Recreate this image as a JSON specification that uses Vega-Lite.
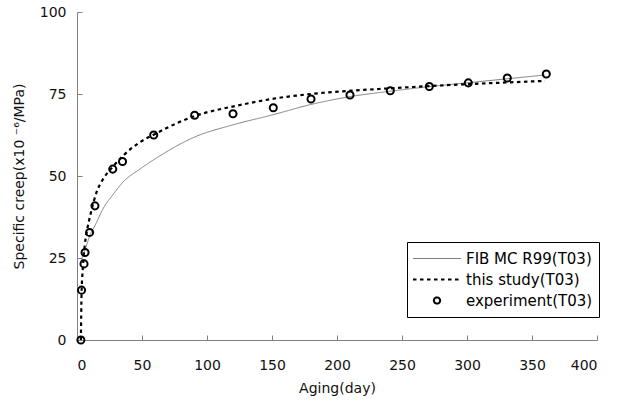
{
  "$schema": "https://vega.github.io/schema/vega-lite/v6.json",
  "width": 520,
  "height": 328,
  "autosize": {"type": "none"},
  "padding": {"left": 77, "top": 12, "right": 22, "bottom": 67},
  "background": "white",
  "config": {
    "view": {"stroke": null},
    "font": "DejaVu Sans",
    "axis": {
      "domainColor": "#808080",
      "tickColor": "#808080",
      "grid": false,
      "labelFont": "DejaVu Sans",
      "labelFontSize": 14,
      "labelColor": "#111111",
      "titleFont": "DejaVu Sans",
      "titleFontSize": 14,
      "titleFontWeight": "normal",
      "titleColor": "#111111",
      "tickSize": -5
    }
  },
  "data": {
    "values": [
      {"s": "FIB MC R99(T03)", "day": 3, "v": 24},
      {"s": "FIB MC R99(T03)", "day": 5, "v": 26.2},
      {"s": "FIB MC R99(T03)", "day": 7, "v": 28.5},
      {"s": "FIB MC R99(T03)", "day": 10, "v": 32},
      {"s": "FIB MC R99(T03)", "day": 14, "v": 35},
      {"s": "FIB MC R99(T03)", "day": 20, "v": 40},
      {"s": "FIB MC R99(T03)", "day": 28, "v": 44.5},
      {"s": "FIB MC R99(T03)", "day": 35, "v": 48},
      {"s": "FIB MC R99(T03)", "day": 48, "v": 52},
      {"s": "FIB MC R99(T03)", "day": 60, "v": 55.2},
      {"s": "FIB MC R99(T03)", "day": 90, "v": 61.8},
      {"s": "FIB MC R99(T03)", "day": 120, "v": 65.6},
      {"s": "FIB MC R99(T03)", "day": 150, "v": 68.6},
      {"s": "FIB MC R99(T03)", "day": 180, "v": 71.8},
      {"s": "FIB MC R99(T03)", "day": 210, "v": 74.2},
      {"s": "FIB MC R99(T03)", "day": 240, "v": 75.8},
      {"s": "FIB MC R99(T03)", "day": 270, "v": 77.2},
      {"s": "FIB MC R99(T03)", "day": 300, "v": 78.4},
      {"s": "FIB MC R99(T03)", "day": 330, "v": 79.6},
      {"s": "FIB MC R99(T03)", "day": 360, "v": 80.8},
      {"s": "this study(T03)", "day": 3, "v": 0},
      {"s": "this study(T03)", "day": 3.5, "v": 14},
      {"s": "this study(T03)", "day": 4.5, "v": 22},
      {"s": "this study(T03)", "day": 6, "v": 29},
      {"s": "this study(T03)", "day": 8, "v": 34},
      {"s": "this study(T03)", "day": 10.5, "v": 38.5},
      {"s": "this study(T03)", "day": 15, "v": 45},
      {"s": "this study(T03)", "day": 20, "v": 49},
      {"s": "this study(T03)", "day": 28, "v": 53},
      {"s": "this study(T03)", "day": 35, "v": 56},
      {"s": "this study(T03)", "day": 48, "v": 60.2},
      {"s": "this study(T03)", "day": 60, "v": 62.8},
      {"s": "this study(T03)", "day": 79, "v": 66.5},
      {"s": "this study(T03)", "day": 90, "v": 68.2},
      {"s": "this study(T03)", "day": 125, "v": 71.6},
      {"s": "this study(T03)", "day": 150, "v": 73.5},
      {"s": "this study(T03)", "day": 180, "v": 75.0},
      {"s": "this study(T03)", "day": 210, "v": 76.0},
      {"s": "this study(T03)", "day": 240, "v": 76.7},
      {"s": "this study(T03)", "day": 270, "v": 77.4},
      {"s": "this study(T03)", "day": 300, "v": 78.0},
      {"s": "this study(T03)", "day": 330, "v": 78.5},
      {"s": "this study(T03)", "day": 360, "v": 79.0},
      {"s": "experiment(T03)", "day": 3, "v": 0},
      {"s": "experiment(T03)", "day": 3.5, "v": 15.2},
      {"s": "experiment(T03)", "day": 5.4, "v": 23.2},
      {"s": "experiment(T03)", "day": 6.2, "v": 26.7},
      {"s": "experiment(T03)", "day": 9.7, "v": 32.8},
      {"s": "experiment(T03)", "day": 13.8, "v": 40.9},
      {"s": "experiment(T03)", "day": 27.5, "v": 52.1},
      {"s": "experiment(T03)", "day": 35, "v": 54.4},
      {"s": "experiment(T03)", "day": 59, "v": 62.5},
      {"s": "experiment(T03)", "day": 90.5, "v": 68.5},
      {"s": "experiment(T03)", "day": 120, "v": 69.0},
      {"s": "experiment(T03)", "day": 151, "v": 70.8},
      {"s": "experiment(T03)", "day": 180, "v": 73.5},
      {"s": "experiment(T03)", "day": 210, "v": 74.7},
      {"s": "experiment(T03)", "day": 241, "v": 76.0},
      {"s": "experiment(T03)", "day": 271, "v": 77.3},
      {"s": "experiment(T03)", "day": 301, "v": 78.4},
      {"s": "experiment(T03)", "day": 331, "v": 79.9},
      {"s": "experiment(T03)", "day": 361, "v": 81.1}
    ]
  },
  "encoding": {
    "x": {
      "field": "day",
      "type": "quantitative",
      "scale": {"domain": [0, 400], "nice": false},
      "axis": {"values": [0, 50, 100, 150, 200, 250, 300, 350, 400], "title": "Aging(day)", "labelPadding": 23, "titlePadding": 9}
    },
    "y": {
      "field": "v",
      "type": "quantitative",
      "scale": {"domain": [0, 100], "nice": false},
      "axis": {"values": [0, 25, 50, 75, 100], "title": "Specific creep(x10 ⁻⁶/MPa)", "labelPadding": 16, "titlePadding": 13}
    },
    "color": {
      "field": "s",
      "type": "nominal",
      "scale": {"domain": ["FIB MC R99(T03)", "this study(T03)", "experiment(T03)"], "range": ["#7f7f7f", "#000000", "#000000"]},
      "legend": {
        "title": null,
        "orient": "none",
        "legendX": 330,
        "legendY": 230,
        "padding": 6,
        "strokeColor": "#000000",
        "fillColor": "#ffffff",
        "clipHeight": 21,
        "rowPadding": 0,
        "labelFont": "DejaVu Sans",
        "labelFontSize": 15,
        "labelColor": "#000000",
        "encode": {
          "symbols": {
            "update": {
              "x": {"value": 24},
              "shape": {"signal": "datum.value === 'experiment(T03)' ? 'M-0.13,0A0.13,0.13,0,1,1,0.13,0A0.13,0.13,0,1,1,-0.13,0Z' : 'M-1,0L1,0'"},
              "strokeDash": {"signal": "datum.value === 'this study(T03)' ? [3.5,3.5] : [1,0]"},
              "strokeWidth": {"signal": "datum.value === 'FIB MC R99(T03)' ? 1 : 2"},
              "fill": {"value": "transparent"},
              "size": {"value": 2304},
              "opacity": {"value": 1}
            }
          },
          "labels": {
            "update": {
              "x": {"value": 53}
            }
          }
        }
      }
    }
  },
  "layer": [
    {
      "transform": [{"filter": "datum.s !== 'experiment(T03)'"}],
      "mark": {"type": "line", "interpolate": "monotone"},
      "encoding": {
        "strokeDash": {
          "field": "s",
          "type": "nominal",
          "scale": {"domain": ["FIB MC R99(T03)", "this study(T03)", "experiment(T03)"], "range": [[1, 0], [3.5, 3.5], [1, 0]]},
          "legend": null
        },
        "strokeWidth": {"condition": {"test": "datum.s === 'FIB MC R99(T03)'", "value": 1}, "value": 2.2}
      }
    },
    {
      "transform": [{"filter": "datum.s === 'experiment(T03)'"}],
      "mark": {"type": "point", "filled": false, "size": 50, "strokeWidth": 2, "opacity": 1}
    }
  ]
}
